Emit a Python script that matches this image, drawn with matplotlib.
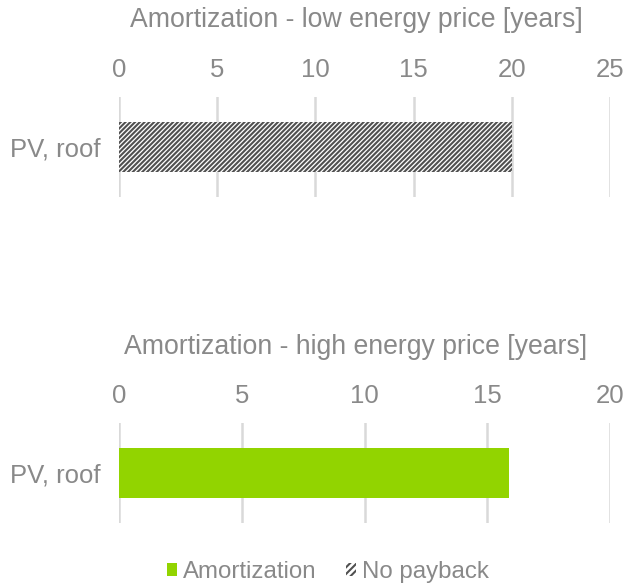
import matplotlib
matplotlib.use("Agg")
import matplotlib.pyplot as plt
from matplotlib.patches import Patch

categories = ["PV, roof"]
low_no_payback = [20.0]
high_amortization = [15.9]
low_ticks = [0, 5, 10, 15, 20, 25]
high_ticks = [0, 5, 10, 15, 20]
title_low = "Amortization - low energy price [years]"
title_high = "Amortization - high energy price [years]"

plt.rcParams['font.family'] = ['Liberation Sans', 'DejaVu Sans']
plt.rcParams['hatch.color'] = '#505050'
plt.rcParams['hatch.linewidth'] = 1.5

TXT = '#898989'
GRID = '#d9d9d9'
GREEN = '#92d400'
FS = 18.5
HATCH = '///////'

W, H = 625, 585
fig = plt.figure(figsize=(W/100, H/100), dpi=100)
ax1 = fig.add_axes([119/W, 1-197/H, 491/W, 100/H])
ax2 = fig.add_axes([119/W, 1-523/H, 491/W, 100/H])

def style(ax, ticks, title, title_y):
    ax.set_xlim(ticks[0], ticks[-1])
    ax.set_ylim(-0.5, 0.5)
    ax.set_xticks(ticks)
    ax.xaxis.tick_top()
    ax.tick_params(axis='x', length=0, labelsize=FS, colors=TXT, pad=11)
    ax.tick_params(axis='y', length=0, labelsize=FS, colors=TXT, pad=13)
    for s in ax.spines.values():
        s.set_visible(False)
    ax.grid(axis='x', color=GRID, linewidth=1.8)
    ax.set_axisbelow(True)
    fig.text(356/W, 1-title_y/H, title, color=TXT, fontsize=19.2, ha='center', va='center')

ax1.barh(categories, low_no_payback, height=0.5, facecolor='white',
         hatch=HATCH, edgecolor='#505050', linewidth=0)
style(ax1, low_ticks, title_low, 20)

ax2.barh(categories, high_amortization, height=0.5, color=GREEN, linewidth=0)
style(ax2, high_ticks, title_high, 347)

handles = [Patch(facecolor=GREEN, edgecolor='none', label='Amortization'),
           Patch(facecolor='white', hatch='/////', edgecolor='#505050', linewidth=0, label='No payback')]
fig.legend(handles=handles, loc='center', bbox_to_anchor=(328/W, 1-572/H), ncol=2,
           frameon=False, fontsize=17.3, labelcolor=TXT, handlelength=0.42, handleheight=0.42,
           handletextpad=0.25, columnspacing=1.2, borderpad=0)

fig.savefig('out.png', dpi=100)
